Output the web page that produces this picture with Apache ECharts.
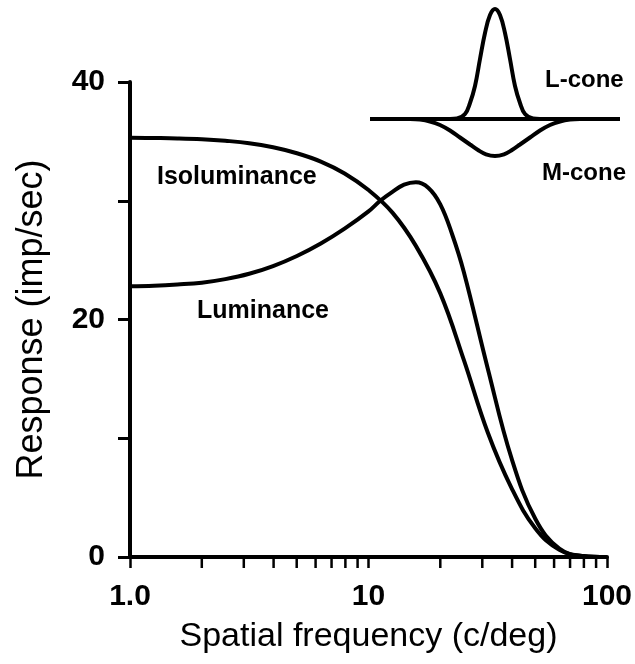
<!DOCTYPE html>
<html>
<head>
<meta charset="utf-8">
<script src="https://cdn.jsdelivr.net/npm/echarts@6/dist/echarts.min.js"></script>
<style>
  html, body { margin: 0; padding: 0; background: #fff; }
  #chart { width: 635px; height: 664px; }
</style>
</head>
<body>
<div id="chart"></div>
<script>
// ---- data ----
const isoluminance = [
  [1.0, 35.3], [1.26, 35.28], [1.58, 35.25], [2.0, 35.18], [2.51, 35.05], [3.16, 34.85],
  [3.98, 34.5], [5.01, 34.0], [6.31, 33.3], [7.94, 32.3], [10.0, 30.9], [12.6, 29.0],
  [15.8, 26.2], [20.0, 22.2], [25.1, 16.6], [31.6, 10.5], [39.8, 5.8], [50.1, 2.4],
  [63.1, 0.6], [79.4, 0.08], [100, 0]
];
const luminance = [
  [1.0, 22.8], [1.26, 22.85], [1.58, 22.95], [2.0, 23.1], [2.51, 23.4], [3.16, 23.85],
  [3.98, 24.5], [5.01, 25.35], [6.31, 26.4], [7.94, 27.65], [10.0, 29.1], [11.2, 30.0],
  [12.6, 30.75], [14.1, 31.35], [15.8, 31.55], [17.8, 31.1], [20.0, 29.7], [22.4, 27.2],
  [25.1, 24.0], [31.6, 15.9], [39.8, 8.3], [50.1, 3.2], [63.1, 0.7], [79.4, 0.08], [100, 0]
];
const xMajorTicks = [1, 10, 100];
const xTickLabels = ['1.0', '10', '100'];
const xMinorTicks = [2, 3, 4, 5, 6, 7, 8, 9, 20, 30, 40, 50, 60, 70, 80, 90];
const yTickLabels = { 0: '0', 20: '20', 40: '40' };

// inset receptive-field profiles (arbitrary units)
const insetBaseline = [[0, 0], [250, 0]];
const lCone = [
  [80, 0], [87, 0.5], [95, 5], [100, 16], [105, 33], [110, 60], [115, 86], [120, 104],
  [125, 110], [130, 104], [135, 86], [140, 60], [145, 33], [150, 16], [155, 5],
  [163, 0.5], [170, 0]
];
const mCone = [
  [40, 0], [50, -0.6], [60, -2.5], [70, -6], [80, -11.5], [90, -18.5], [100, -25.5],
  [108, -31], [116, -35.3], [125, -37], [134, -35.3], [142, -31], [150, -25.5],
  [160, -18.5], [170, -11.5], [180, -6], [190, -2.5], [200, -0.6], [210, 0]
];

const FONT = '"Liberation Sans", Arial, Helvetica, sans-serif';
const chart = echarts.init(document.getElementById('chart'), null, { renderer: 'canvas' });

chart.setOption({
  backgroundColor: '#fff',
  animation: false,
  grid: [
    { left: 130, right: 28, top: 82, bottom: 107, outerBoundsMode: 'none', containLabel: false },
    { left: 370, right: 15, top: 9, bottom: 508, outerBoundsMode: 'none', containLabel: false }
  ],
  xAxis: [
    {
      gridIndex: 0, type: 'log', logBase: 10, min: 1, max: 100,
      name: 'Spatial frequency (c/deg)', nameLocation: 'middle', nameGap: 63,
      nameTextStyle: { fontFamily: FONT, fontSize: 34, color: '#000' },
      axisLine: { lineStyle: { color: '#000', width: 4 } },
      axisTick: { show: true, length: 11, inside: false, lineStyle: { color: '#000', width: 2.5 } },
      splitLine: { show: false },
      minorTick: { show: false },
      axisLabel: {
        fontFamily: FONT, fontSize: 30, fontWeight: 'bold', color: '#000', margin: 25,
        formatter: v => { const i = xMajorTicks.indexOf(Math.round(v)); return i >= 0 ? xTickLabels[i] : ''; }
      }
    },
    { gridIndex: 1, type: 'value', min: 0, max: 250, show: false }
  ],
  yAxis: [
    {
      gridIndex: 0, type: 'value', min: 0, max: 40, interval: 10,
      name: 'Response (imp/sec)', nameLocation: 'middle', nameGap: 80,
      nameTextStyle: { fontFamily: FONT, fontSize: 36, color: '#000' },
      axisLine: { show: true, lineStyle: { color: '#000', width: 4 } },
      axisTick: { show: true, length: 12, lineStyle: { color: '#000', width: 3 } },
      splitLine: { show: false },
      axisLabel: {
        fontFamily: FONT, fontSize: 30, fontWeight: 'bold', color: '#000', margin: 25,
        formatter: v => (yTickLabels[v] !== undefined ? yTickLabels[v] : '')
      }
    },
    { gridIndex: 1, type: 'value', min: -37, max: 110, show: false }
  ],
  series: [
    {
      name: 'Isoluminance', type: 'line', xAxisIndex: 0, yAxisIndex: 0,
      data: isoluminance, smooth: 0.4, showSymbol: false, symbol: 'none',
      lineStyle: { color: '#000', width: 4 }, clip: false
    },
    {
      name: 'Luminance', type: 'line', xAxisIndex: 0, yAxisIndex: 0,
      data: luminance, smooth: 0.4, showSymbol: false, symbol: 'none',
      lineStyle: { color: '#000', width: 4 }, clip: false
    },
    {
      name: 'minor ticks', type: 'custom', xAxisIndex: 0, yAxisIndex: 0,
      data: xMinorTicks.map(v => [v, 0]), clip: false, silent: true,
      renderItem: (params, api) => {
        const p = api.coord([api.value(0), 0]);
        return {
          type: 'line',
          shape: { x1: p[0], y1: p[1], x2: p[0], y2: p[1] + 11 },
          style: { stroke: '#000', lineWidth: 2.5 }
        };
      }
    },
    {
      name: 'baseline', type: 'line', xAxisIndex: 1, yAxisIndex: 1,
      data: insetBaseline, showSymbol: false, symbol: 'none',
      lineStyle: { color: '#000', width: 4 }, clip: false
    },
    {
      name: 'L-cone', type: 'line', xAxisIndex: 1, yAxisIndex: 1,
      data: lCone, smooth: 0.4, showSymbol: false, symbol: 'none',
      lineStyle: { color: '#000', width: 4 }, clip: false
    },
    {
      name: 'M-cone', type: 'line', xAxisIndex: 1, yAxisIndex: 1,
      data: mCone, smooth: 0.4, showSymbol: false, symbol: 'none',
      lineStyle: { color: '#000', width: 4 }, clip: false
    }
  ],
  graphic: [
    { type: 'text', left: 157, top: 165, style: { text: 'Isoluminance', font: 'bold 25px ' + FONT, fill: '#000' } },
    { type: 'text', left: 197, top: 299, style: { text: 'Luminance', font: 'bold 25px ' + FONT, fill: '#000' } },
    { type: 'text', left: 545, top: 68, style: { text: 'L-cone', font: 'bold 24px ' + FONT, fill: '#000' } },
    { type: 'text', left: 542, top: 161, style: { text: 'M-cone', font: 'bold 24px ' + FONT, fill: '#000' } }
  ]
});
</script>
</body>
</html>
